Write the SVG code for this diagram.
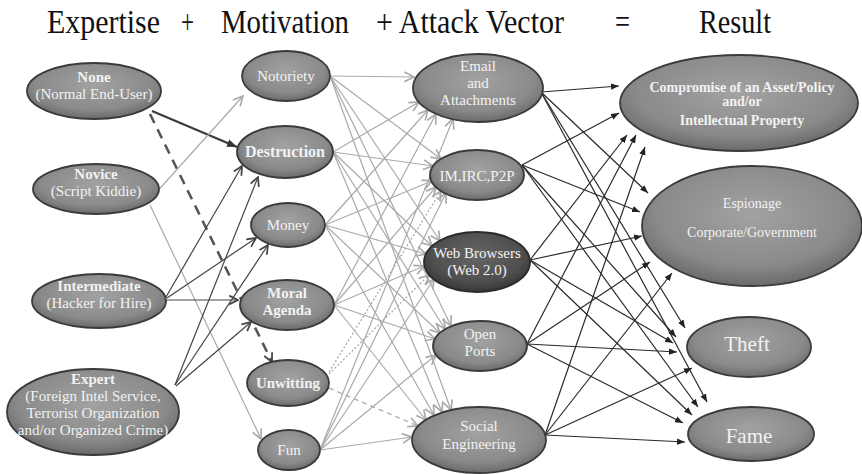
<svg xmlns="http://www.w3.org/2000/svg" width="862" height="474" viewBox="0 0 862 474" font-family="'Liberation Serif','DejaVu Serif','Times New Roman',serif">
<defs>
<radialGradient id="gN" cx="50%" cy="40%" r="62%">
<stop offset="0" stop-color="#a2a2a2"/><stop offset="0.7" stop-color="#8a8a8a"/><stop offset="1" stop-color="#666"/>
</radialGradient>
<radialGradient id="gD" cx="50%" cy="40%" r="62%">
<stop offset="0" stop-color="#666"/><stop offset="0.7" stop-color="#4e4e4e"/><stop offset="1" stop-color="#333"/>
</radialGradient>
<marker id="ad" viewBox="0 0 10 10" refX="10" refY="5" markerWidth="8" markerHeight="8" markerUnits="userSpaceOnUse" orient="auto"><path d="M0,1 L10,5 L0,9 z" fill="#222"/></marker>
<marker id="ab" viewBox="0 0 10 10" refX="10" refY="5" markerWidth="10" markerHeight="10" markerUnits="userSpaceOnUse" orient="auto"><path d="M0,1 L10,5 L0,9 z" fill="#333"/></marker>
<marker id="am" viewBox="0 0 10 10" refX="9" refY="5" markerWidth="11" markerHeight="11" markerUnits="userSpaceOnUse" orient="auto"><path d="M1,1 L9,5 L1,9" fill="none" stroke="#444" stroke-width="1.6"/></marker>
<marker id="al" viewBox="0 0 10 10" refX="9" refY="5" markerWidth="12" markerHeight="12" markerUnits="userSpaceOnUse" orient="auto"><path d="M1,1 L9,5 L1,9" fill="none" stroke="#aaa" stroke-width="1.4"/></marker>
</defs>
<style>
.n{fill:url(#gN);stroke:#3a3a3a;stroke-width:1.8}
.nd{fill:url(#gD);stroke:#2a2a2a;stroke-width:1.8}
text{font-family:"Liberation Serif","DejaVu Serif","Times New Roman",serif;fill:#f2f2f2;text-anchor:middle;font-size:15px}
.b{font-weight:bold}
.h{fill:#111;font-size:33px;text-anchor:start}
.big{font-size:21px}
.e-dk{stroke:#3a3a3a;stroke-width:2.2;fill:none;marker-end:url(#ab)}
.e-dash{stroke:#555;stroke-width:2.6;stroke-dasharray:10 7;fill:none;marker-end:url(#am)}
.e-md{stroke:#444;stroke-width:1.2;fill:none;marker-end:url(#am)}
.e-lt{stroke:#aaa;stroke-width:1.2;fill:none;marker-end:url(#al)}
.e-dot{stroke:#aaa;stroke-width:1.3;stroke-dasharray:2 2;fill:none;marker-end:url(#al)}
.e-ds{stroke:#aaa;stroke-width:1.3;stroke-dasharray:5 4;fill:none;marker-end:url(#al)}
.e-r{stroke:#2a2a2a;stroke-width:1.2;fill:none;marker-end:url(#ad)}
</style>
<rect width="862" height="474" fill="#fff"/>
<g id="header">
<text class="h" x="47" y="33" textLength="113" lengthAdjust="spacingAndGlyphs">Expertise</text>
<text class="h" x="181" y="33" textLength="13" lengthAdjust="spacingAndGlyphs">+</text>
<text class="h" x="221" y="33" textLength="128" lengthAdjust="spacingAndGlyphs">Motivation</text>
<text class="h" x="376" y="33" textLength="188" lengthAdjust="spacingAndGlyphs">+ Attack Vector</text>
<text class="h" x="615" y="33" textLength="15" lengthAdjust="spacingAndGlyphs">=</text>
<text class="h" x="699" y="33" textLength="72" lengthAdjust="spacingAndGlyphs">Result</text>
</g>
<g id="connectors">
<line class="e-dk" x1="152" y1="111" x2="237" y2="147"/>
<line class="e-dash" x1="150" y1="114" x2="272" y2="362"/>
<line class="e-lt" x1="154" y1="195" x2="243" y2="96"/>
<line class="e-lt" x1="150" y1="205" x2="261" y2="439"/>
<line class="e-md" x1="166" y1="297" x2="242" y2="166"/>
<line class="e-md" x1="167" y1="298" x2="256" y2="238"/>
<line class="e-md" x1="167" y1="300" x2="238" y2="300"/>
<line class="e-md" x1="175" y1="385" x2="258" y2="177"/>
<line class="e-md" x1="175" y1="385" x2="268" y2="245"/>
<line class="e-md" x1="176" y1="386" x2="251" y2="322"/>

<line class="e-lt" x1="330" y1="76" x2="414" y2="77"/>
<line class="e-lt" x1="330" y1="76" x2="441" y2="159"/>
<line class="e-lt" x1="330" y1="76" x2="440" y2="241"/>
<line class="e-lt" x1="330" y1="76" x2="451" y2="326"/>
<line class="e-lt" x1="330" y1="76" x2="451" y2="410"/>
<line class="e-lt" x1="333" y1="152" x2="419" y2="102"/>
<line class="e-lt" x1="333" y1="152" x2="433" y2="166"/>
<line class="e-lt" x1="333" y1="152" x2="432" y2="246"/>
<line class="e-lt" x1="333" y1="152" x2="445" y2="329"/>
<line class="e-lt" x1="333" y1="152" x2="442" y2="412"/>
<line class="e-lt" x1="325" y1="225" x2="428" y2="110"/>
<line class="e-lt" x1="325" y1="225" x2="432" y2="181"/>
<line class="e-lt" x1="325" y1="225" x2="426" y2="254"/>
<line class="e-lt" x1="325" y1="225" x2="440" y2="333"/>
<line class="e-lt" x1="325" y1="225" x2="434" y2="415"/>
<line class="e-lt" x1="334" y1="305" x2="436" y2="114"/>
<line class="e-lt" x1="334" y1="305" x2="436" y2="187"/>
<line class="e-lt" x1="334" y1="305" x2="424" y2="266"/>
<line class="e-lt" x1="334" y1="305" x2="435" y2="339"/>
<line class="e-lt" x1="334" y1="305" x2="426" y2="420"/>
<line class="e-dot" x1="329" y1="372" x2="441" y2="191"/>
<line class="e-dot" x1="329" y1="374" x2="429" y2="275"/>
<line class="e-ds" x1="329" y1="388" x2="418" y2="426"/>
<line class="e-lt" x1="320" y1="450" x2="453" y2="119"/>
<line class="e-lt" x1="320" y1="450" x2="446" y2="193"/>
<line class="e-lt" x1="320" y1="450" x2="434" y2="279"/>
<line class="e-lt" x1="320" y1="450" x2="436" y2="355"/>
<line class="e-lt" x1="320" y1="450" x2="412" y2="437"/>

<line class="e-r" x1="541" y1="92" x2="619" y2="86"/>
<line class="e-r" x1="541" y1="92" x2="648" y2="193"/>
<line class="e-r" x1="541" y1="92" x2="685" y2="328"/>
<line class="e-r" x1="541" y1="92" x2="707" y2="402"/>
<line class="e-r" x1="522" y1="165" x2="619" y2="113"/>
<line class="e-r" x1="522" y1="165" x2="640" y2="212"/>
<line class="e-r" x1="522" y1="165" x2="676" y2="337"/>
<line class="e-r" x1="522" y1="165" x2="698" y2="407"/>
<line class="e-r" x1="530" y1="260" x2="627" y2="135"/>
<line class="e-r" x1="530" y1="260" x2="642" y2="236"/>
<line class="e-r" x1="530" y1="260" x2="673" y2="343"/>
<line class="e-r" x1="530" y1="260" x2="692" y2="415"/>
<line class="e-r" x1="527" y1="344" x2="636" y2="135"/>
<line class="e-r" x1="527" y1="344" x2="650" y2="262"/>
<line class="e-r" x1="527" y1="344" x2="677" y2="352"/>
<line class="e-r" x1="527" y1="344" x2="683" y2="423"/>
<line class="e-r" x1="545" y1="435" x2="645" y2="147"/>
<line class="e-r" x1="545" y1="435" x2="672" y2="273"/>
<line class="e-r" x1="545" y1="435" x2="692" y2="368"/>
<line class="e-r" x1="545" y1="435" x2="685" y2="442"/>
</g>

<g id="none"><ellipse class="n" cx="94" cy="91" rx="67" ry="28"/><text class="b" x="94" y="82">None</text><text x="94" y="99">(Normal End-User)</text></g>
<g id="novice"><ellipse class="n" cx="96" cy="189" rx="63" ry="25"/><text class="b" x="96" y="179">Novice</text><text x="96" y="196">(Script Kiddie)</text></g>
<g id="intermediate"><ellipse class="n" cx="99" cy="301" rx="67" ry="27"/><text class="b" x="99" y="291">Intermediate</text><text x="99" y="308">(Hacker for Hire)</text></g>
<g id="expert"><ellipse class="n" cx="93" cy="412" rx="86" ry="43"/><text class="b" x="93" y="384">Expert</text><text x="93" y="401">(Foreign Intel Service,</text><text x="93" y="418">Terrorist Organization</text><text x="93" y="435">and/or Organized Crime)</text></g>

<g id="notoriety"><ellipse class="n" cx="286" cy="76" rx="44" ry="25"/><text x="286" y="81">Notoriety</text></g>
<g id="destruction"><ellipse class="n" cx="285" cy="152" rx="48" ry="26"/><text class="b" x="285" y="157" style="font-size:16px">Destruction</text></g>
<g id="money"><ellipse class="n" cx="288" cy="225" rx="37" ry="22"/><text x="288" y="230">Money</text></g>
<g id="moral"><ellipse class="n" cx="287" cy="305" rx="47" ry="25"/><text class="b" x="287" y="298">Moral</text><text class="b" x="287" y="315">Agenda</text></g>
<g id="unwitting"><ellipse class="n" cx="288" cy="383" rx="41" ry="23"/><text class="b" x="288" y="388">Unwitting</text></g>
<g id="fun"><ellipse class="n" cx="289" cy="450" rx="31" ry="20"/><text x="289" y="455">Fun</text></g>

<g id="email"><ellipse class="n" cx="478" cy="88" rx="65" ry="34"/><text x="478" y="71">Email</text><text x="478" y="88">and</text><text x="478" y="105">Attachments</text></g>
<g id="im"><ellipse class="n" cx="477" cy="175" rx="47" ry="25"/><text x="477" y="181">IM,IRC,P2P</text></g>
<g id="web"><ellipse class="nd" cx="477" cy="262" rx="53" ry="30"/><text x="477" y="258">Web Browsers</text><text x="477" y="275">(Web 2.0)</text></g>
<g id="ports"><ellipse class="n" cx="480" cy="346" rx="47" ry="25"/><text x="480" y="339">Open</text><text x="480" y="356">Ports</text></g>
<g id="social"><ellipse class="n" cx="479" cy="440" rx="67" ry="33"/><text x="479" y="431">Social</text><text x="479" y="449">Engineering</text></g>

<g id="compromise"><ellipse class="n" cx="739" cy="103" rx="119" ry="48"/><text class="b" x="742" y="92" style="font-size:14px">Compromise of  an Asset/Policy</text><text class="b" x="742" y="106" style="font-size:14px">and/or</text><text class="b" x="742" y="125" style="font-size:14px">Intellectual Property</text></g>
<g id="espionage"><ellipse class="n" cx="752" cy="226" rx="110" ry="60"/><text x="752" y="208" style="font-size:14px">Espionage</text><text x="752" y="237" style="font-size:14px">Corporate/Government</text></g>
<g id="theft"><ellipse class="n" cx="749" cy="347" rx="62" ry="30"/><text class="big" x="747" y="351">Theft</text></g>
<g id="fame"><ellipse class="n" cx="751" cy="434" rx="63" ry="27"/><text class="big" x="749" y="443">Fame</text></g>
</svg>
